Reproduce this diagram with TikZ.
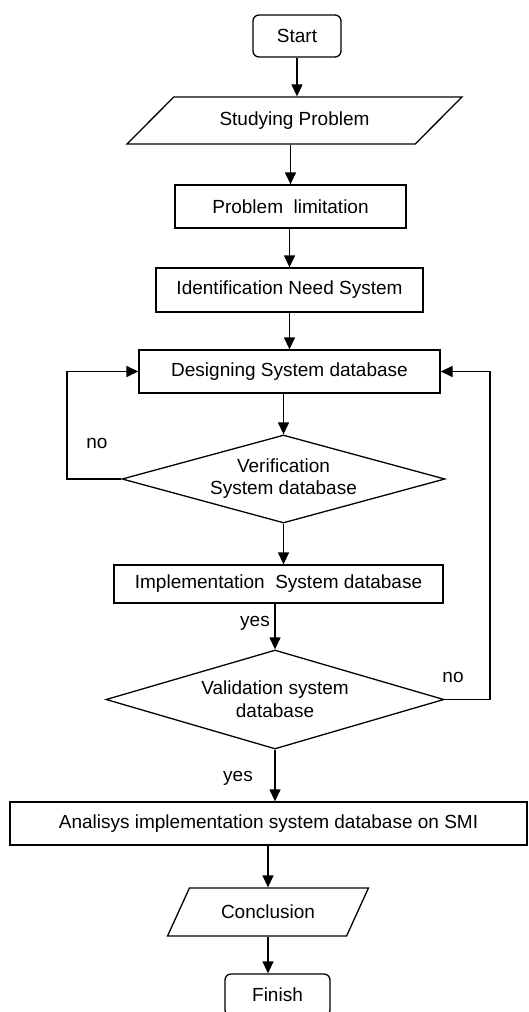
\documentclass[tikz,border=0pt]{standalone}
\usepackage{fontspec}
\setmainfont{Liberation Sans}
\usetikzlibrary{shapes.geometric,arrows.meta}
\begin{document}
\begin{tikzpicture}[x=1pt,y=-1pt,
  txt/.style={font=\fontsize{19}{23}\selectfont},
  box/.style={txt, draw, line width=1.3pt, rectangle, inner sep=0pt, align=center},
  term/.style={box, rounded corners=6pt},
  para/.style={txt, draw, line width=1.3pt, trapezium, trapezium stretches=true, inner sep=0pt},
  dec/.style={txt, draw, line width=1.3pt, diamond, inner sep=0pt, align=center},
  arr/.style={line width=1.3pt, -{Triangle[length=12pt,width=11pt]}},
  line/.style={line width=1.3pt}
]
\useasboundingbox (0,0) rectangle (529,1012);
\clip (0,0) rectangle (529,1012);

\node[term, minimum width=88pt, minimum height=42pt] (start) at (297,36) {Start};
\node[para, minimum width=335pt, minimum height=47pt, trapezium left angle=31.4, trapezium right angle=148.6] (sp) at (294.5,120.5) {Studying Problem};
\node[box, minimum width=231pt, minimum height=43pt] (pl) at (290.5,206.5) {Problem\ \ limitation};
\node[box, minimum width=267pt, minimum height=44pt] (id) at (289.5,290) {Identification Need System};
\node[box, minimum width=301pt, minimum height=43pt] (ds) at (289.5,371.5) {Designing System database};
\node[dec, aspect=3.67, minimum width=323pt, minimum height=88pt] (ver) at (283.5,479) {Verification\\[-1pt]System database};
\node[box, minimum width=329pt, minimum height=38pt] (im) at (278.5,584) {Implementation\ \ System database};
\node[dec, aspect=3.41, minimum width=338pt, minimum height=99pt] (val) at (275,699.5) {Validation system\\database};
\node[box, minimum width=517pt, minimum height=43pt] (an) at (268.5,823.5) {Analisys implementation system database on SMI};
\node[para, minimum width=201pt, minimum height=48pt, trapezium left angle=46.8, trapezium right angle=133.2] (con) at (268,912) {Conclusion};
\node[term, minimum width=105pt, minimum height=42pt, text depth=0pt] (fin) at (277.5,995) {Finish};

\coordinate (lx) at (67,0);
\coordinate (rx) at (490,0);

\draw[arr] (start.south) -- (start.south |- sp.north);
\draw[arr] (pl.north |- sp.south) -- (pl.north);
\draw[arr] (id.north |- pl.south) -- (id.north);
\draw[arr] (id.south) -- (id.south |- ds.north);
\draw[arr] (ver.north |- ds.south) -- (ver.north);
\draw[arr] (ver.south) -- (ver.south |- im.north);
\draw[arr] (val.north |- im.south) -- (val.north);
\draw[arr] (val.south) -- (val.south |- an.north);
\draw[arr] (con.north |- an.south) -- (con.north);
\draw[arr] (con.south) -- (con.south |- fin.north);

\draw[arr] (ver.west) -- (ver.west -| lx) |- (ds.west);
\draw[arr] (val.east) -- (val.east -| rx) |- (ds.east);

\node[txt] (no1) at (97,443) {no};
\node[txt] (no2) at (453,677) {no};
\node[txt] (yes1) at (255,623) {yes};
\node[txt] (yes2) at (238,778) {yes};
\end{tikzpicture}
\end{document}
